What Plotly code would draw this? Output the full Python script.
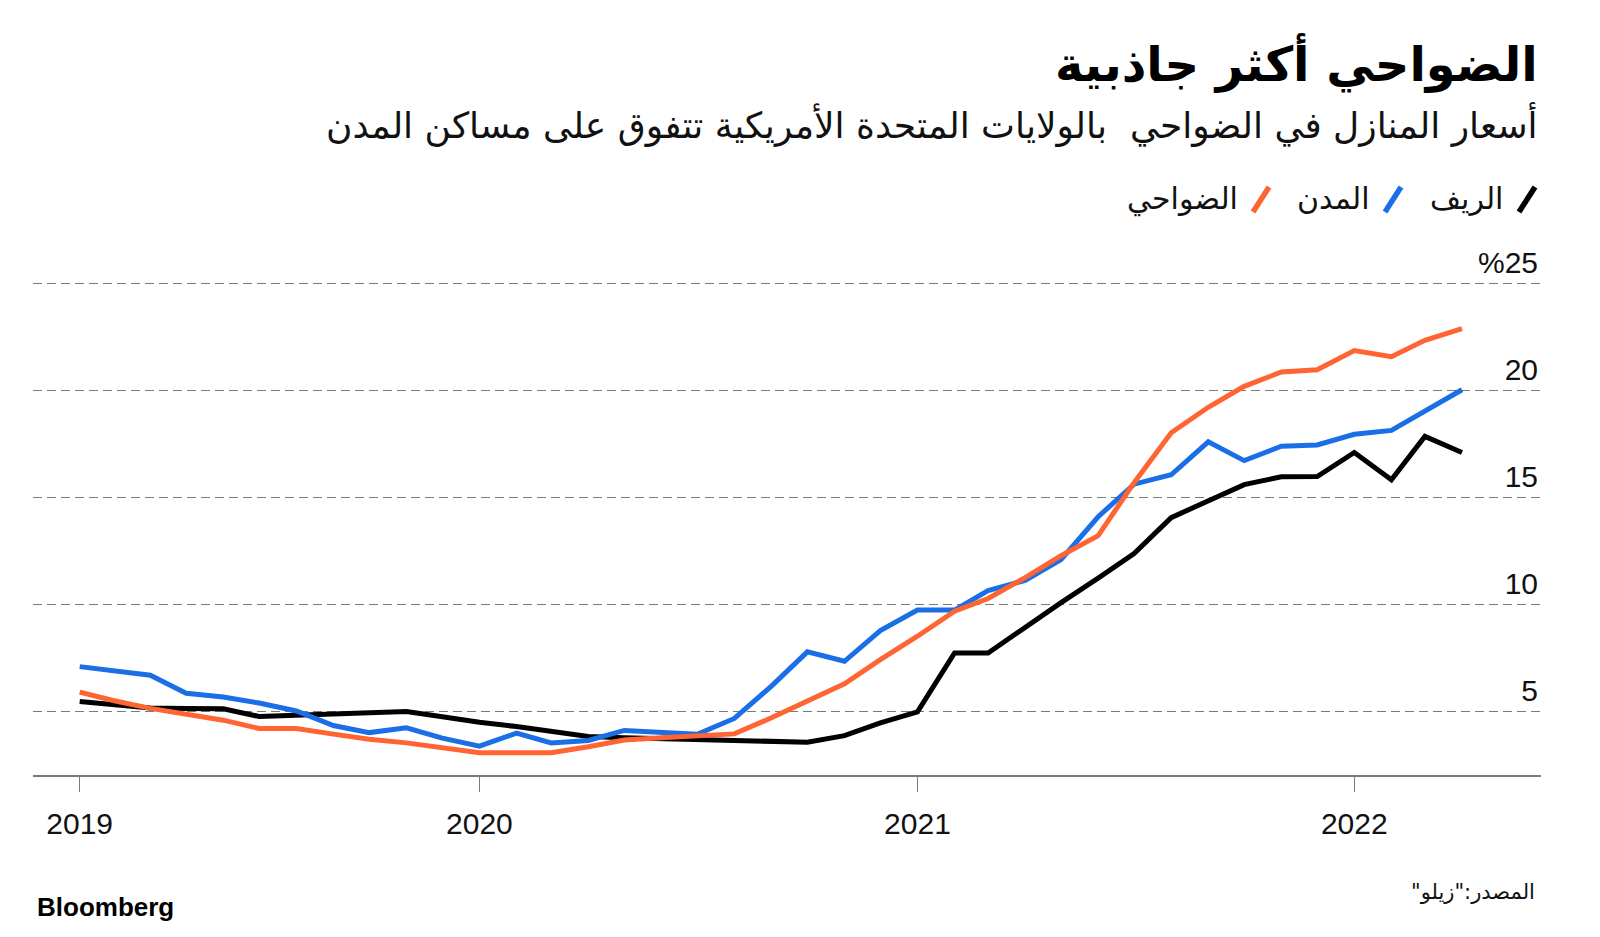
import pandas as pd
import plotly.graph_objects as go

# ---------------- data ----------------
months = pd.date_range("2019-02-01", periods=39, freq="MS")

rural = [5.48, 5.34, 5.18, 5.15, 5.14, 4.78, 4.85, 4.91, 4.98, 5.01,
         4.77, 4.51, 4.31, 4.10, 3.85, 3.79, 3.74, 3.71, 3.66, 3.62,
         3.58, 3.89, 4.48, 5.00, 7.75, 7.75, 8.95, 10.10, 11.24, 12.39,
         14.07, 14.86, 15.61, 15.98, 15.99, 17.11, 15.84, 17.86, 17.11]

urban = [7.11, 6.93, 6.71, 5.87, 5.69, 5.41, 5.04, 4.36, 4.03, 4.25,
         3.77, 3.40, 4.01, 3.55, 3.66, 4.13, 4.03, 3.95, 4.69, 6.20,
         7.80, 7.36, 8.79, 9.75, 9.75, 10.66, 11.14, 12.11, 14.11, 15.63,
         16.07, 17.61, 16.73, 17.40, 17.46, 17.96, 18.14, 19.04, 20.04]

suburb = [5.92, 5.53, 5.16, 4.89, 4.61, 4.22, 4.22, 3.96, 3.72, 3.55,
          3.31, 3.09, 3.09, 3.09, 3.37, 3.68, 3.79, 3.86, 3.97, 4.72,
          5.49, 6.31, 7.44, 8.53, 9.70, 10.29, 11.27, 12.29, 13.23, 15.70,
          18.03, 19.22, 20.20, 20.87, 20.97, 21.87, 21.58, 22.35, 22.89]

series_names = ["الريف", "المدن", "الضواحي"]
series_colors = ["#000000", "#1a6ee6", "#ff6433"]

x_tickvals = ["2019-02-01", "2020-01-01", "2021-01-01", "2022-01-01"]
x_ticktext = ["2019", "2020", "2021", "2022"]
y_tickvals = [5, 10, 15, 20, 25]
y_ticktext = ["5", "10", "15", "20", "%25"]

RLM = "\u200f"
title = "الضواحي أكثر جاذبية"
subtitle = "أسعار المنازل في الضواحي  بالولايات المتحدة الأمريكية تتفوق على مساكن المدن"
source = RLM + "المصدر:\"زيلو\"" + RLM

# ---------------- layout geometry (pixels) ----------------
W, H = 1600, 937
Y_MIN, Y_MAX = 2.05, 27.5
PX_PER_UNIT = 21.43
PL, PR = 33, 1541                             # plot area left / right
PB = 775.5                                    # plot area bottom
PT = PB - PX_PER_UNIT * (Y_MAX - Y_MIN)       # plot area top

def px_x(x):
    return (x - PL) / (PR - PL)

def px_y(y):
    return (PB - y) / (PB - PT)

AR_FONT = "DejaVu Sans"
NUM_FONT = "Liberation Sans, Arial, sans-serif"

fig = go.Figure()
for name, vals, col in zip(series_names, [rural, urban, suburb], series_colors):
    fig.add_trace(go.Scatter(x=months, y=vals, mode="lines", name=name,
                             line=dict(color=col, width=5),
                             showlegend=False, hoverinfo="skip"))

fig.update_layout(
    width=W, height=H,
    margin=dict(l=PL, r=W - PR, t=PT, b=H - PB, pad=0),
    paper_bgcolor="white", plot_bgcolor="white",
    showlegend=False,
    xaxis=dict(
        type="date",
        range=["2018-12-24", "2022-06-06"],
        tickvals=x_tickvals, ticktext=x_ticktext,
        showgrid=False, zeroline=False,
        showline=True, linecolor="#7a7a7a", linewidth=1.5,
        ticks="outside", ticklen=15, tickwidth=1.2, tickcolor="#7a7a7a",
        tickfont=dict(family=NUM_FONT, size=30, color="#111"),
        ticklabelstandoff=6,
    ),
    yaxis=dict(
        range=[Y_MIN, Y_MAX],
        side="right",
        tickvals=y_tickvals, ticktext=y_ticktext,
        ticklabelposition="inside",
        ticklabelshift=-21,
        ticks="",
        showgrid=True, gridcolor="#7a7a7a", gridwidth=1, griddash="9px,5px",
        zeroline=False, showline=False,
        tickfont=dict(family=NUM_FONT, size=30, color="#111"),
    ),
)

# title, subtitle, source, logo
fig.add_annotation(text="<b>" + title + "</b>", xref="paper", yref="paper",
                   x=px_x(1540), y=px_y(63), xanchor="right", yanchor="middle",
                   showarrow=False, font=dict(family=AR_FONT, size=48, color="#000"))
fig.add_annotation(text=subtitle, xref="paper", yref="paper",
                   x=px_x(1540), y=px_y(125), xanchor="right", yanchor="middle",
                   showarrow=False, font=dict(family=AR_FONT, size=36, color="#111"))
fig.add_annotation(text=source, xref="paper", yref="paper",
                   x=px_x(1537), y=px_y(893), xanchor="right", yanchor="middle",
                   showarrow=False, font=dict(family=AR_FONT, size=21, color="#111"))
fig.add_annotation(text="<b>Bloomberg</b>", xref="paper", yref="paper",
                   x=px_x(35), y=px_y(908), xanchor="left", yanchor="middle",
                   showarrow=False, font=dict(family=NUM_FONT, size=26, color="#000"))

# custom legend: slash marker to the right of each label
legend_items = [  # (slash centre x px, label right edge px)
    (1527, 1505),
    (1393, 1372),
    (1261, 1240),
]
LEG_Y = 199
for (sx, tx), name, col in zip(legend_items, series_names, series_colors):
    fig.add_shape(type="line", xref="paper", yref="paper",
                  x0=px_x(sx - 8), y0=px_y(LEG_Y + 13), x1=px_x(sx + 8), y1=px_y(LEG_Y - 12),
                  line=dict(color=col, width=5.5))
    fig.add_annotation(text=name, xref="paper", yref="paper",
                       x=px_x(tx), y=px_y(LEG_Y), xanchor="right", yanchor="middle",
                       showarrow=False, font=dict(family=AR_FONT, size=30, color="#111"))

fig.write_html("out.html", config={"displayModeBar": False},
               post_script="document.body.style.margin='0';")
